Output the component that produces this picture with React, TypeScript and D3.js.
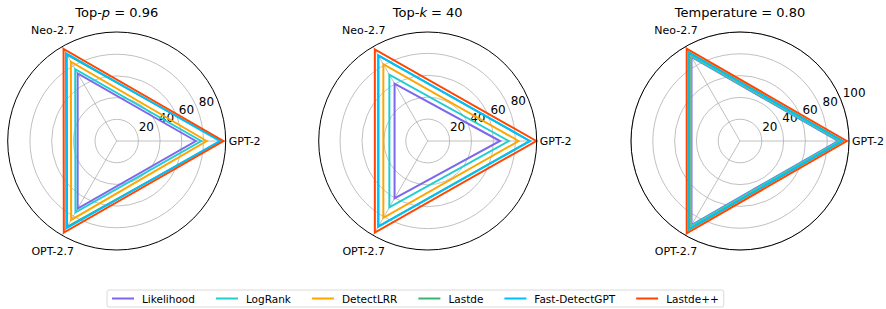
import * as d3 from 'd3';

const AXES = ['GPT-2', 'Neo-2.7', 'OPT-2.7'];
const METHODS = ['Likelihood', 'LogRank', 'DetectLRR', 'Lastde', 'Fast-DetectGPT', 'Lastde++'];
const COLORS = ['#7b68ee', '#1fcfcf', '#ffa500', '#3cb371', '#00bfff', '#ff4500'];

// values per method: [GPT-2, Neo-2.7, OPT-2.7]
const topP = [
  [73, 72, 72],
  [78, 76.5, 76],
  [83, 84.5, 84],
  [96, 92, 91.5],
  [95, 93.5, 93],
  [98.5, 98, 97.5],
];
const topK = [
  [66, 60.5, 60.5],
  [74, 70, 70],
  [83, 81, 81],
  [93, 90, 90],
  [93.5, 90.5, 90.5],
  [99.2, 96.5, 96.5],
];
const temperature = [
  [90, 89, 89],
  [91, 90, 90],
  [93, 92.5, 92.5],
  [94.5, 94, 94],
  [93.5, 93, 93],
  [98, 97.8, 97.8],
];

const TICKS_A = [20, 40, 60, 80];
const TICKS_B = [20, 40, 60, 80, 100];

const W = 886;
const H = 309;
const CY = 141;
const R = 109;
const FONT = 'DejaVu Sans, sans-serif';

const panels = [
  { cx: 116.7, title: ['Top-', 'p', ' = 0.96'], data: topP, ticks: TICKS_A, rMax: 100.5 },
  { cx: 427.7, title: ['Top-', 'k', ' = 40'], data: topK, ticks: TICKS_A, rMax: 99.5 },
  { cx: 740, title: ['Temperature = 0.80', '', ''], data: temperature, ticks: TICKS_B, rMax: 100 },
];

const thetas = AXES.map((_, i) => (i * 2 * Math.PI) / AXES.length);

function measure(text: string, size: number) {
  const c = document.createElement('canvas').getContext('2d');
  if (!c) return text.length * size * 0.6;
  c.font = `${size}px DejaVu Sans`;
  return c.measureText(text).width;
}

function Panel({ p }: { p: typeof panels[number] }) {
  const r = d3.scaleLinear().domain([0, p.rMax]).range([0, R]);
  const line = d3
    .lineRadial<number>()
    .angle((_, i) => Math.PI / 2 - thetas[i])
    .radius(v => r(v))
    .curve(d3.curveLinearClosed);
  const labA = (22.5 * Math.PI) / 180;
  return (
    <g transform={`translate(${p.cx},${CY})`}>
      {p.ticks.map(t => (
        <circle key={t} r={r(t)} fill="none" stroke="#b0b0b0" strokeWidth={0.8} />
      ))}
      {thetas.map((th, i) => (
        <line key={i} x1={0} y1={0} x2={R * Math.cos(th)} y2={-R * Math.sin(th)} stroke="#b0b0b0" strokeWidth={0.8} />
      ))}
      {p.ticks.map(t => (
        <text
          key={'l' + t}
          x={r(t) * Math.cos(labA) + 2}
          y={-r(t) * Math.sin(labA) - 2}
          fontSize={12}
          fontFamily={FONT}
          fill="#000"
        >
          {t}
        </text>
      ))}
      {p.data.map((vals, k) => (
        <path key={k} d={line(vals) || ''} fill="none" stroke={COLORS[k]} strokeWidth={2} strokeLinejoin="miter" />
      ))}
      <circle r={R} fill="none" stroke="#000" strokeWidth={1} />
      {AXES.map((a, i) => (
        <text
          key={a}
          x={(R + 19) * Math.cos(thetas[i])}
          y={-(R + 19) * Math.sin(thetas[i])}
          textAnchor="middle"
          dominantBaseline="central"
          fontSize={11}
          fontFamily={FONT}
        >
          {a}
        </text>
      ))}
      <text x={0} y={-CY + 17} textAnchor="middle" fontSize={13} fontFamily={FONT}>
        {p.title[0]}
        {p.title[1] && <tspan fontStyle="italic">{p.title[1]}</tspan>}
        {p.title[2]}
      </text>
    </g>
  );
}

function Legend() {
  const fs = 10.5;
  const handle = 22;
  const gap = 8;
  const colSp = 21;
  const left = 107;
  const top = 290;
  const h = 17;
  let x = left + 5;
  const items = METHODS.map((m, i) => {
    const tw = measure(m, fs);
    const item = { m, color: COLORS[i], x, tw };
    x += handle + gap + tw + colSp;
    return item;
  });
  const right = x - colSp + 5;
  const my = top + h / 2;
  return (
    <g>
      <rect x={left} y={top} width={right - left} height={h} rx={2} fill="#fff" stroke="#d0d0d0" strokeWidth={0.8} />
      {items.map(it => (
        <g key={it.m}>
          <line x1={it.x} x2={it.x + handle} y1={my} y2={my} stroke={it.color} strokeWidth={2} />
          <text x={it.x + handle + gap} y={my} dominantBaseline="central" fontSize={fs} fontFamily={FONT}>
            {it.m}
          </text>
        </g>
      ))}
    </g>
  );
}

export default function App() {
  return (
    <svg width={W} height={H} style={{ position: 'absolute', left: 0, top: 0, background: '#fff' }}>
      {panels.map((p, i) => (
        <Panel key={i} p={p} />
      ))}
      <Legend />
    </svg>
  );
}
